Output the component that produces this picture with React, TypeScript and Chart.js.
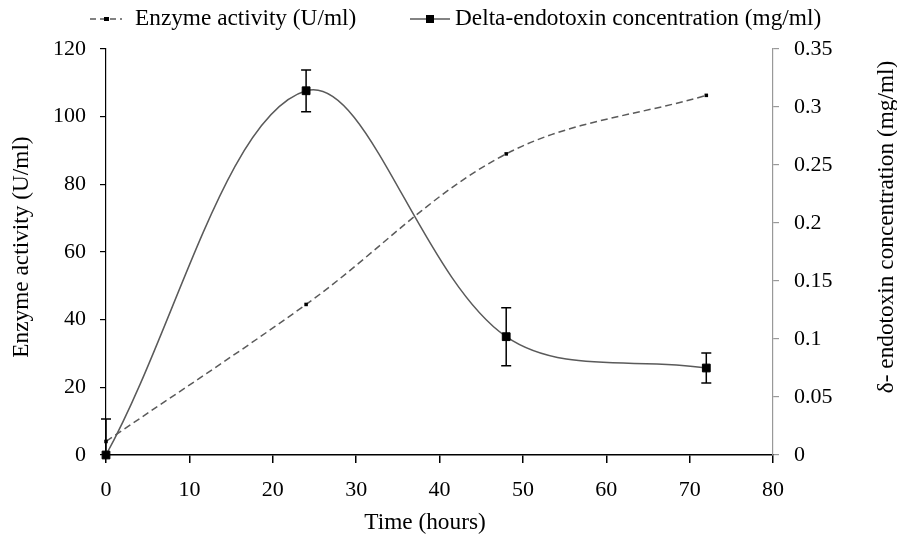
import React, { useEffect, useRef } from 'react';
import { Chart, registerables } from 'chart.js';

Chart.register(...registerables);

// ---- data ----
const hours = [0, 24, 48, 72];
const enzymeActivity = [4, 44.5, 89, 106.3];
const deltaEndotoxin = [0, 0.314, 0.102, 0.075];
const deltaError = [0.031, 0.018, 0.025, 0.013];

const legendLabels = ['Enzyme activity (U/ml)', 'Delta-endotoxin concentration (mg/ml)'];
const xTitle = 'Time (hours)';
const yLeftTitle = 'Enzyme activity (U/ml)';
const yRightTitle = 'δ- endotoxin concentration (mg/ml)';

const FONT = '"Liberation Serif", "Times New Roman", serif';
const LINE = '#5a5a5a';

const errorBarPlugin = {
  id: 'errorBars',
  afterDatasetsDraw(chart: any) {
    const { ctx, chartArea } = chart;
    const xs = chart.scales.x;
    const ys = chart.scales.y1;
    ctx.save();
    ctx.beginPath();
    ctx.rect(chartArea.left - 10, chartArea.top - 10, chartArea.right - chartArea.left + 20, chartArea.bottom - chartArea.top + 10);
    ctx.clip();
    ctx.strokeStyle = '#000';
    ctx.lineWidth = 1.5;
    hours.forEach((h, i) => {
      const x = xs.getPixelForValue(h);
      const yt = ys.getPixelForValue(deltaEndotoxin[i] + deltaError[i]);
      const yb = ys.getPixelForValue(deltaEndotoxin[i] - deltaError[i]);
      ctx.beginPath();
      ctx.moveTo(x, yt);
      ctx.lineTo(x, yb);
      ctx.moveTo(x - 5, yt);
      ctx.lineTo(x + 5, yt);
      ctx.moveTo(x - 5, yb);
      ctx.lineTo(x + 5, yb);
      ctx.stroke();
    });
    ctx.restore();
  },
};

const decorPlugin = {
  id: 'decor',
  afterDraw(chart: any) {
    const { ctx } = chart;
    ctx.save();
    ctx.fillStyle = '#000';
    ctx.font = `23.3px ${FONT}`;
    ctx.textBaseline = 'middle';
    ctx.textAlign = 'left';
    // legend item 1
    const ly = 19;
    ctx.strokeStyle = LINE;
    ctx.lineWidth = 1.5;
    ctx.setLineDash([6, 4]);
    ctx.beginPath();
    ctx.moveTo(90, ly);
    ctx.lineTo(122, ly);
    ctx.stroke();
    ctx.setLineDash([]);
    ctx.fillRect(104, ly - 2, 5, 4);
    ctx.fillText(legendLabels[0], 135, ly);
    // legend item 2
    ctx.beginPath();
    ctx.moveTo(410, ly);
    ctx.lineTo(450, ly);
    ctx.stroke();
    ctx.fillRect(426, ly - 4, 8, 8);
    ctx.fillText(legendLabels[1], 455, ly);
    // x title
    ctx.textAlign = 'center';
    ctx.fillText(xTitle, 425, 523);
    // right title
    ctx.save();
    ctx.translate(887, 227);
    ctx.rotate(-Math.PI / 2);
    ctx.fillText(yRightTitle, 0, 0);
    ctx.restore();
    // left title
    ctx.save();
    ctx.translate(22, 247);
    ctx.rotate(-Math.PI / 2);
    ctx.fillText(yLeftTitle, 0, 0);
    ctx.restore();
    ctx.restore();
  },
};

export default function App() {
  const ref = useRef<HTMLCanvasElement>(null);
  useEffect(() => {
    if (!ref.current) return;
    const chart = new Chart(ref.current, {
      type: 'line',
      data: {
        datasets: [
          {
            label: legendLabels[0],
            data: hours.map((h, i) => ({ x: h, y: enzymeActivity[i] })),
            yAxisID: 'y',
            borderColor: LINE,
            borderWidth: 1.5,
            borderDash: [7, 4],
            tension: 0.35,
            pointStyle: 'rect',
            pointRadius: 2.5,
            pointBorderWidth: 0,
            pointBackgroundColor: '#000',
            clip: 10,
          },
          {
            label: legendLabels[1],
            data: hours.map((h, i) => ({ x: h, y: deltaEndotoxin[i] })),
            yAxisID: 'y1',
            borderColor: LINE,
            borderWidth: 1.5,
            tension: 0.35,
            pointStyle: 'rect',
            pointRadius: 5.5,
            pointBorderWidth: 1,
            pointBorderColor: '#000',
            pointBackgroundColor: '#000',
            clip: 10,
          },
        ],
      },
      options: {
        responsive: false,
        animation: false,
        devicePixelRatio: 1,
        layout: { padding: { top: 49, left: 0, right: 0, bottom: 0 } },
        plugins: { legend: { display: false }, tooltip: { enabled: false } },
        scales: {
          x: {
            type: 'linear',
            min: 0,
            max: 80,
            ticks: { stepSize: 10, color: '#000', font: { family: FONT, size: 22 }, padding: 14, maxRotation: 0 },
            grid: { drawOnChartArea: false, drawTicks: true, tickLength: 8, color: '#000', lineWidth: 1.5 },
            border: { color: '#000', width: 1.5 },
            afterFit: (s: any) => { s.height = 80; },
          },
          y: {
            type: 'linear',
            position: 'left',
            min: 0,
            max: 120,
            ticks: { stepSize: 20, color: '#000', font: { family: FONT, size: 22 }, padding: 14 },
            grid: { drawOnChartArea: false, drawTicks: true, tickLength: 6, color: '#000', lineWidth: 1.2 },
            border: { color: '#000', width: 1.2 },
            afterFit: (s: any) => { s.width = 106; },
          },
          y1: {
            type: 'linear',
            position: 'right',
            min: 0,
            max: 0.35,
            ticks: {
              stepSize: 0.05,
              color: '#000',
              font: { family: FONT, size: 22 },
              padding: 15,
              callback: (v: any) => String(Number(Number(v).toFixed(2))),
            },
            grid: { drawOnChartArea: false, drawTicks: true, tickLength: 6, color: '#999', lineWidth: 1.2 },
            border: { color: '#999', width: 1.2 },
            afterFit: (s: any) => { s.width = 124; },
          },
        },
      },
      plugins: [errorBarPlugin, decorPlugin],
    });
    return () => chart.destroy();
  }, []);
  return (
    <div style={{ position: 'fixed', left: 0, top: 0, width: 897, height: 535, background: '#fff' }}>
      <canvas ref={ref} width={897} height={535} style={{ display: 'block' }} />
    </div>
  );
}
